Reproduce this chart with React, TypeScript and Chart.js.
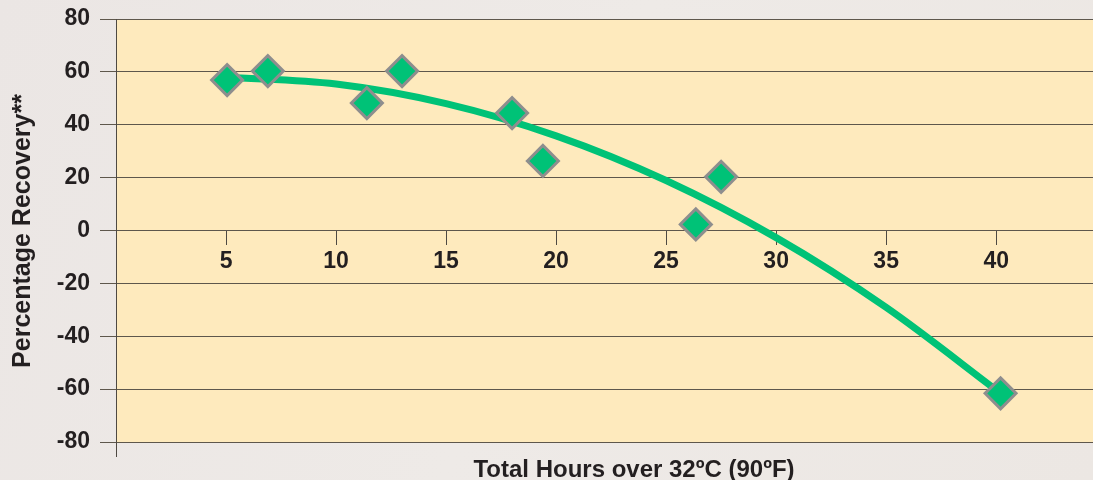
import React, { useEffect, useRef } from "react";
import { Chart, registerables } from "chart.js";

Chart.register(...registerables);

const hours = [5.05, 6.9, 11.4, 13.0, 18.0, 19.4, 26.35, 27.5, 40.2];
const recovery = [56.9, 60.3, 48.2, 60.3, 44.4, 26.3, 2.3, 20.3, -61.6];
const trendHours = [5, 10, 15, 20, 25, 30, 35, 40.2];
const trendRecovery = [58.0, 55.4, 48.0, 35.8, 18.9, -2.7, -29.1, -61.6];
const xTicks = [5, 10, 15, 20, 25, 30, 35, 40];
const xTitle = "Total Hours over 32ºC (90ºF)";
const yTitle = "Percentage Recovery**";

const FONT = "'Liberation Sans', Arial, Helvetica, sans-serif";
const TEXT = "#231f20";
const AXIS = "#4e4942";
const GREEN = "#00c277";

const decor = {
  id: "decor",
  beforeDraw(chart: any) {
    const { ctx, width, height, chartArea } = chart;
    ctx.save();
    const g = ctx.createLinearGradient(0, 0, width, height);
    g.addColorStop(0, "#ebe6e4");
    g.addColorStop(0.5, "#eeeae7");
    g.addColorStop(1, "#ece7e3");
    ctx.fillStyle = g;
    ctx.fillRect(0, 0, width, height);
    ctx.fillStyle = "#feeabd";
    ctx.fillRect(chartArea.left, chartArea.top, chartArea.right - chartArea.left, chartArea.bottom - chartArea.top);
    ctx.restore();
  },
  afterDraw(chart: any) {
    const { ctx, chartArea } = chart;
    ctx.save();
    ctx.strokeStyle = AXIS;
    ctx.lineWidth = 1;
    ctx.beginPath();
    ctx.moveTo(Math.round(chartArea.left) + 0.5, chartArea.bottom);
    ctx.lineTo(Math.round(chartArea.left) + 0.5, chartArea.bottom + 15);
    ctx.stroke();
    ctx.fillStyle = TEXT;
    ctx.font = `bold 24px ${FONT}`;
    ctx.textAlign = "center";
    ctx.textBaseline = "alphabetic";
    ctx.fillText(xTitle, 634, 477);
    ctx.translate(30, 231);
    ctx.rotate(-Math.PI / 2);
    ctx.font = `bold 25px ${FONT}`;
    ctx.fillText(yTitle, 0, 0);
    ctx.restore();
  },
};

export default function App() {
  const ref = useRef<HTMLCanvasElement | null>(null);
  useEffect(() => {
    if (!ref.current) return;
    const chart = new Chart(ref.current, {
      type: "scatter",
      data: {
        datasets: [
          {
            type: "scatter",
            label: "Observed",
            data: hours.map((h, i) => ({ x: h, y: recovery[i] })),
            pointStyle: "rectRot",
            pointRadius: 15.5,
            pointHoverRadius: 15.5,
            pointBorderWidth: 3,
            pointBorderColor: "#8e8e8e",
            pointBackgroundColor: GREEN,
          } as any,
          {
            type: "line",
            label: "Trend",
            data: trendHours.map((h, i) => ({ x: h, y: trendRecovery[i] })),
            borderColor: GREEN,
            borderWidth: 7,
            pointRadius: 0,
            fill: false,
            cubicInterpolationMode: "monotone",
            showLine: true,
          } as any,
        ],
      },
      options: {
        responsive: false,
        animation: false,
        layout: { autoPadding: false, padding: { top: 19, right: 0, bottom: 38, left: 0 } },
        plugins: { legend: { display: false }, tooltip: { enabled: false }, title: { display: false } },
        scales: {
          x: {
            type: "linear",
            position: { y: 0 } as any,
            min: 0,
            max: 44.4,
            afterBuildTicks: (scale: any) => {
              scale.ticks = xTicks.map((v) => ({ value: v }));
            },
            afterFit: (scale: any) => {
              scale.paddingLeft = 0;
              scale.paddingRight = 0;
            },
            grid: { drawOnChartArea: false, drawTicks: true, tickLength: 14, color: AXIS, lineWidth: 1 },
            border: { display: false },
            ticks: {
              padding: 3,
              color: TEXT,
              font: { family: FONT, size: 23, weight: "bold" },
              maxRotation: 0,
              autoSkip: false,
            },
          },
          y: {
            type: "linear",
            min: -80,
            max: 80,
            afterFit: (scale: any) => {
              scale.width = 116;
              scale.paddingTop = 0;
              scale.paddingBottom = 0;
            },
            grid: { color: "#5e574c", lineWidth: 1, drawTicks: true, tickLength: 16 },
            border: { display: true, color: AXIS, width: 1 },
            ticks: {
              stepSize: 20,
              padding: 10,
              color: TEXT,
              font: { family: FONT, size: 23, weight: "bold" },
            },
          },
        },
      },
      plugins: [decor],
    });
    return () => chart.destroy();
  }, []);
  return (
    <div style={{ position: "absolute", left: 0, top: 0, width: 1093, height: 480 }}>
      <canvas ref={ref} width={1093} height={480} />
    </div>
  );
}
